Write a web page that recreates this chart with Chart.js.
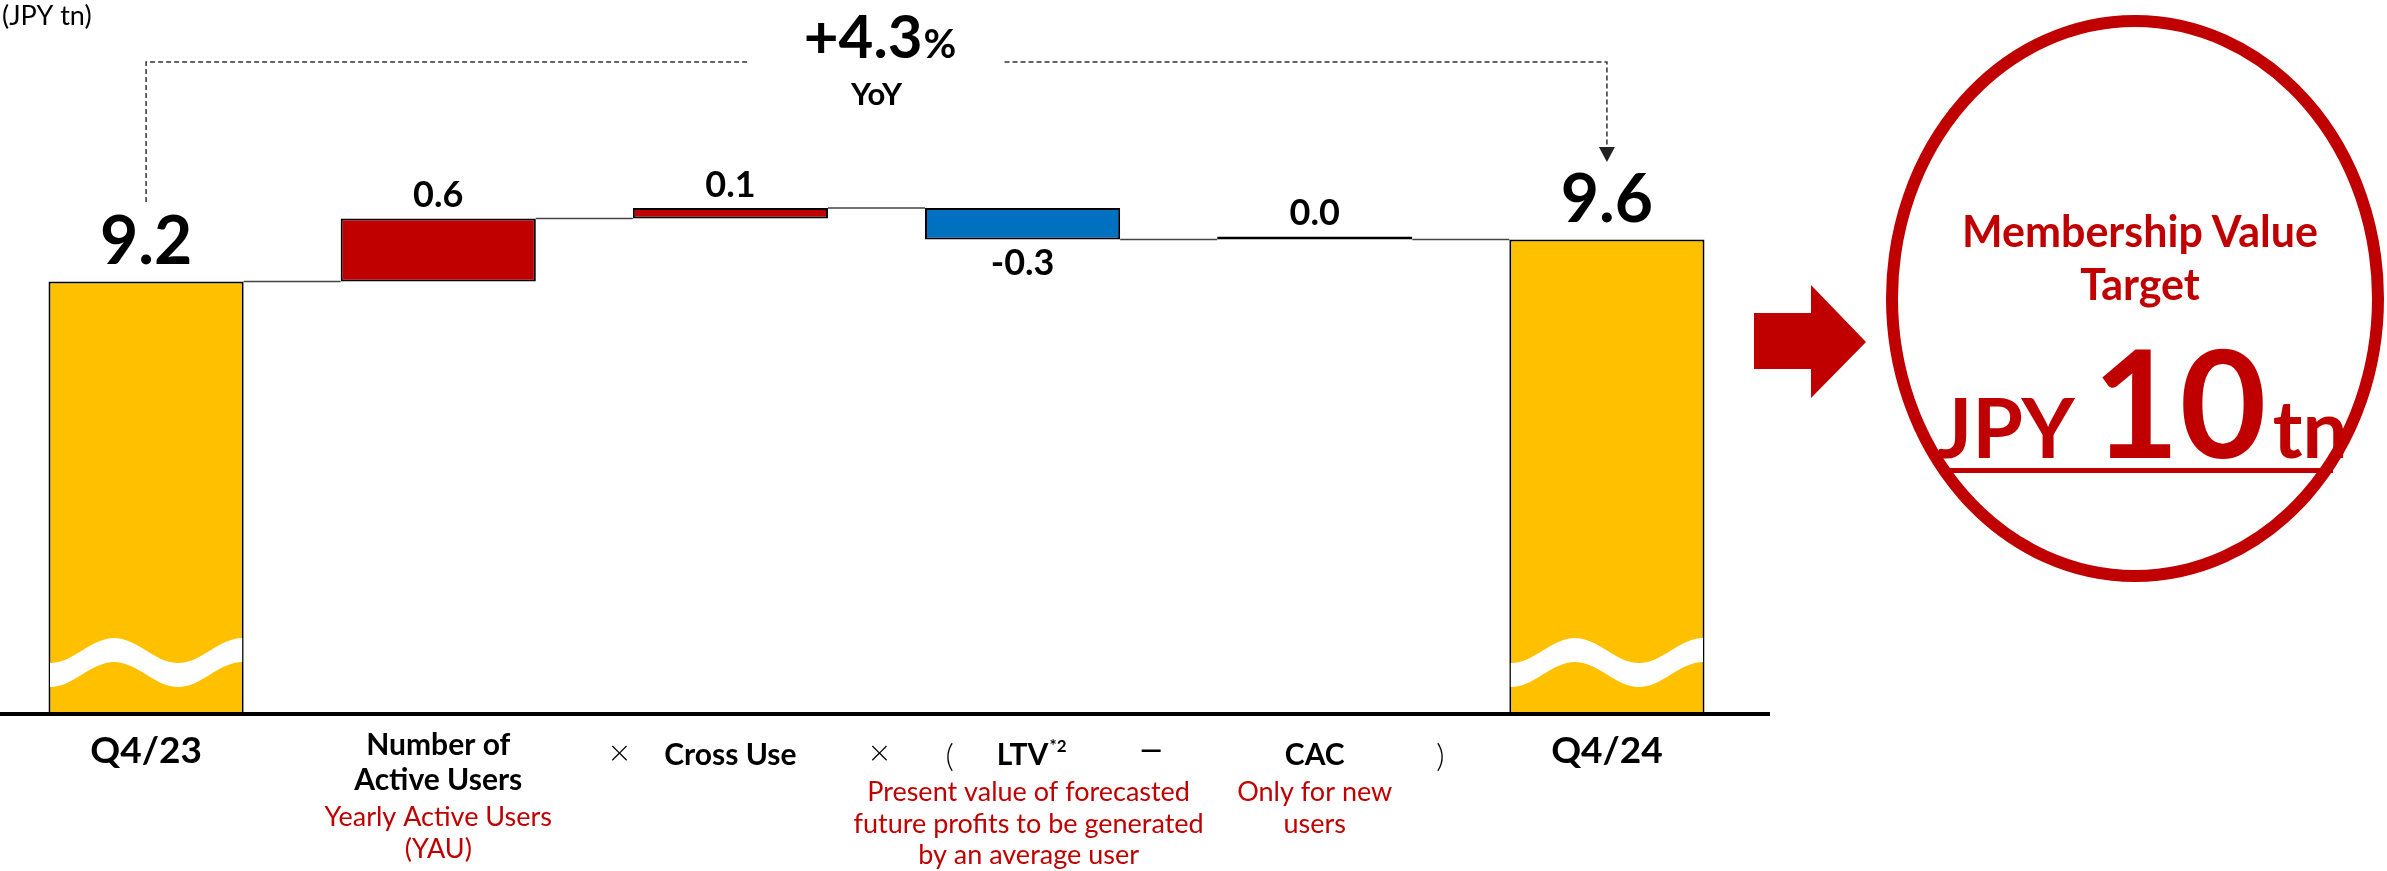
<!DOCTYPE html>
<html>
<head>
<meta charset="utf-8">
<title>Membership Value</title>
<script src="https://cdn.jsdelivr.net/npm/chart.js@4.4.1/dist/chart.umd.min.js"></script>
<style>
  html, body { margin: 0; padding: 0; background: #fff; }
  body { width: 2387px; height: 871px; position: relative; overflow: hidden; }
  #bridgeChart { position: absolute; left: 0; top: 0; }
  #targetPanel { position: absolute; left: 0; top: 0; pointer-events: none; }
</style>
</head>
<body>
<canvas id="bridgeChart" width="2387" height="871"></canvas>

<svg id="targetPanel" width="2387" height="871" xmlns="http://www.w3.org/2000/svg">
  <polygon points="1754,313 1811,313 1811,285 1866,342 1811,398 1811,369 1754,369" fill="#C00000" />
  <ellipse cx="2135" cy="298.5" rx="243" ry="277.5" fill="none" stroke="#C00000" stroke-width="12" />
  <g font-family="Lato, 'Noto Sans', sans-serif" font-weight="700" fill="#C00000">
    <text x="2140" y="247" text-anchor="middle" font-size="43">Membership Value</text>
    <text x="2140" y="300" text-anchor="middle" font-size="43">Target</text>
    <text y="458"><tspan x="1937" font-size="82">JPY</tspan><tspan dx="18" font-size="150">10</tspan><tspan dx="6" font-size="80">tn</tspan></text>
  </g>
  <rect x="1946" y="468" width="387" height="5" fill="#C00000" />
</svg>

<script>
// Membership value bridge Q4/23 -> Q4/24 (JPY tn)
const categories = ["Q4/23", "Number of Active Users", "Cross Use", "LTV", "CAC", "Q4/24"];
const barValues = [9.2, 0.6, 0.1, -0.3, 0.0, 9.6];
const isTotal = [true, false, false, false, false, true];
const valueLabels = ["9.2", "0.6", "0.1", "-0.3", "0.0", "9.6"];
const tickLines = [
  ["Q4/23"],
  ["Number of", "Active Users"],
  ["Cross Use"],
  ["LTV"],
  ["CAC"],
  ["Q4/24"],
];
const noteLines = [
  [],
  ["Yearly Active Users", "(YAU)"],
  [],
  ["Present value of forecasted", "future profits to be generated", "by an average user"],
  ["Only for new", "users"],
  [],
];
const formulaSigns = ["×", "×", "(", "—", ")"];
const unitLabel = "(JPY tn)";
const yoyChange = "+4.3";
const yoyUnit = "%";
const yoyLabel = "YoY";

// waterfall ranges: totals start from zero, steps start from the running level
let running = 0;
const barRanges = barValues.map((v, i) => {
  if (isTotal[i]) {
    running = v;
    return [0, v];
  }
  const start = running;
  running = start + v;
  return [start, running];
});

const barColors = barValues.map((v, i) => {
  if (isTotal[i]) return "#FFC000";
  if (v > 0) return "#C00000";
  if (v < 0) return "#0070C0";
  return "#000000";
});

const FONT = "Lato, 'Noto Sans', sans-serif";

const bridgeDecor = {
  id: "bridgeDecor",
  afterDatasetsDraw(chart) {
    const { ctx, chartArea, scales } = chart;
    const x = scales.x;
    const y = scales.y;
    const bars = chart.getDatasetMeta(0).data;
    ctx.save();

    // connectors between bars
    ctx.strokeStyle = "#444";
    ctx.lineWidth = 1.5;
    for (let i = 0; i < bars.length - 1; i++) {
      const level = y.getPixelForValue(barRanges[i][1]);
      ctx.beginPath();
      ctx.moveTo(bars[i].x + bars[i].width / 2, level);
      ctx.lineTo(bars[i + 1].x - bars[i + 1].width / 2, level);
      ctx.stroke();
    }

    // axis break wave on the total bars
    const waveCenter = y.getPixelForValue(5.57);
    bars.forEach((bar, i) => {
      if (!isTotal[i]) return;
      const left = bar.x - bar.width / 2 + 1.5;
      const right = bar.x + bar.width / 2 - 1.5;
      const steps = 48;
      ctx.beginPath();
      for (let k = 0; k <= steps; k++) {
        const t = k / steps;
        ctx.lineTo(left + t * (right - left), waveCenter - 12 + 12.5 * Math.cos(3 * Math.PI * t));
      }
      for (let k = steps; k >= 0; k--) {
        const t = k / steps;
        ctx.lineTo(left + t * (right - left), waveCenter + 12 + 12.5 * Math.cos(3 * Math.PI * t));
      }
      ctx.closePath();
      ctx.fillStyle = "#fff";
      ctx.fill();
    });

    // baseline
    ctx.strokeStyle = "#000";
    ctx.lineWidth = 4;
    ctx.beginPath();
    ctx.moveTo(0, chartArea.bottom);
    ctx.lineTo(chartArea.right + 17, chartArea.bottom);
    ctx.stroke();

    // value labels
    ctx.fillStyle = "#000";
    ctx.textAlign = "center";
    ctx.textBaseline = "alphabetic";
    bars.forEach((bar, i) => {
      const top = Math.min(bar.y, bar.base);
      const bottom = Math.max(bar.y, bar.base);
      if (isTotal[i]) {
        ctx.font = "bold 66px " + FONT;
        ctx.fillText(valueLabels[i], bar.x, top - 17);
      } else if (barValues[i] < 0) {
        ctx.font = "bold 36px " + FONT;
        ctx.fillText(valueLabels[i], bar.x, bottom + 36);
      } else {
        ctx.font = "bold 36px " + FONT;
        ctx.fillText(valueLabels[i], bar.x, top - 11);
      }
    });

    // dashed YoY bracket from first total to last total
    const fromX = bars[0].x;
    const toX = bars[bars.length - 1].x;
    const midX = (fromX + toX) / 2;
    ctx.strokeStyle = "#333";
    ctx.lineWidth = 1.5;
    ctx.setLineDash([5, 3]);
    ctx.beginPath();
    ctx.moveTo(fromX, 202);
    ctx.lineTo(fromX, 62);
    ctx.lineTo(midX - 128, 62);
    ctx.moveTo(midX + 128, 62);
    ctx.lineTo(toX, 62);
    ctx.lineTo(toX, 148);
    ctx.stroke();
    ctx.setLineDash([]);
    ctx.fillStyle = "#222";
    ctx.beginPath();
    ctx.moveTo(toX - 8, 147);
    ctx.lineTo(toX + 8, 147);
    ctx.lineTo(toX, 162);
    ctx.closePath();
    ctx.fill();

    // YoY figure
    ctx.fillStyle = "#000";
    ctx.font = "bold 60px " + FONT;
    const wNum = ctx.measureText(yoyChange).width;
    ctx.font = "bold 40px " + FONT;
    const wPct = ctx.measureText(yoyUnit).width;
    const startX = midX + 3 - (wNum + wPct) / 2;
    ctx.textAlign = "left";
    ctx.font = "bold 60px " + FONT;
    ctx.fillText(yoyChange, startX, 58);
    ctx.font = "bold 40px " + FONT;
    ctx.fillText(yoyUnit, startX + wNum + 1, 58);
    ctx.textAlign = "center";
    ctx.font = "bold 31px " + FONT;
    ctx.fillText(yoyLabel, midX, 105);

    // unit
    ctx.textAlign = "left";
    ctx.font = "27px " + FONT;
    ctx.fillText(unitLabel, 2, 25);

    // category labels and notes
    ctx.textAlign = "center";
    tickLines.forEach((lines, i) => {
      const cx = x.getPixelForValue(i);
      let base;
      if (isTotal[i]) {
        ctx.font = "bold 37px " + FONT;
        base = 763;
        ctx.fillText(lines[0], cx, base);
      } else {
        ctx.font = "bold 30px " + FONT;
        base = lines.length > 1 ? 755 : 765;
        lines.forEach((line, k) => ctx.fillText(line, cx, base + k * 35));
        base += (lines.length - 1) * 35;
      }
      ctx.fillStyle = "#C00000";
      ctx.font = "27px " + FONT;
      noteLines[i].forEach((line, k) => ctx.fillText(line, cx + (i === 3 ? 6 : 0), base + 36 + k * 31.5));
      ctx.fillStyle = "#000";
    });

    // superscript on LTV
    ctx.font = "bold 30px " + FONT;
    const ltvW = ctx.measureText(tickLines[3][0]).width;
    ctx.textAlign = "left";
    ctx.font = "bold 17px " + FONT;
    ctx.fillText("*2", x.getPixelForValue(3) + ltvW / 2 + 1, 752);

    // formula signs between the categories
    const signSlots = [1.62, 2.51, 2.75, 3.44, 4.43];
    const signFonts = ["300 36px ", "300 36px ", "300 32px ", "bold 28px ", "300 32px "];
    const signY = [765, 765, 767, 759, 767];
    ctx.textAlign = "center";
    formulaSigns.forEach((s, k) => {
      ctx.font = signFonts[k] + FONT;
      ctx.fillText(s, x.getPixelForValue(signSlots[k]), signY[k]);
    });

    ctx.restore();
  },
};

const ctx = document.getElementById("bridgeChart").getContext("2d");
new Chart(ctx, {
  type: "bar",
  data: {
    labels: categories,
    datasets: [
      {
        data: barRanges,
        backgroundColor: barColors,
        borderColor: "#000",
        borderWidth: 2,
        borderSkipped: false,
        barPercentage: 0.668,
        categoryPercentage: 1,
        minBarLength: 3,
        clip: { left: 4, right: 4, top: 4, bottom: 0 },
      },
    ],
  },
  options: {
    responsive: false,
    animation: false,
    layout: { padding: { left: 0, right: 634, top: 0, bottom: 157 } },
    plugins: {
      legend: { display: false },
      tooltip: { enabled: false },
    },
    scales: {
      x: { display: false },
      y: { display: false, min: 5.08, max: 11.88 },
    },
  },
  plugins: [bridgeDecor],
});
</script>
</body>
</html>
